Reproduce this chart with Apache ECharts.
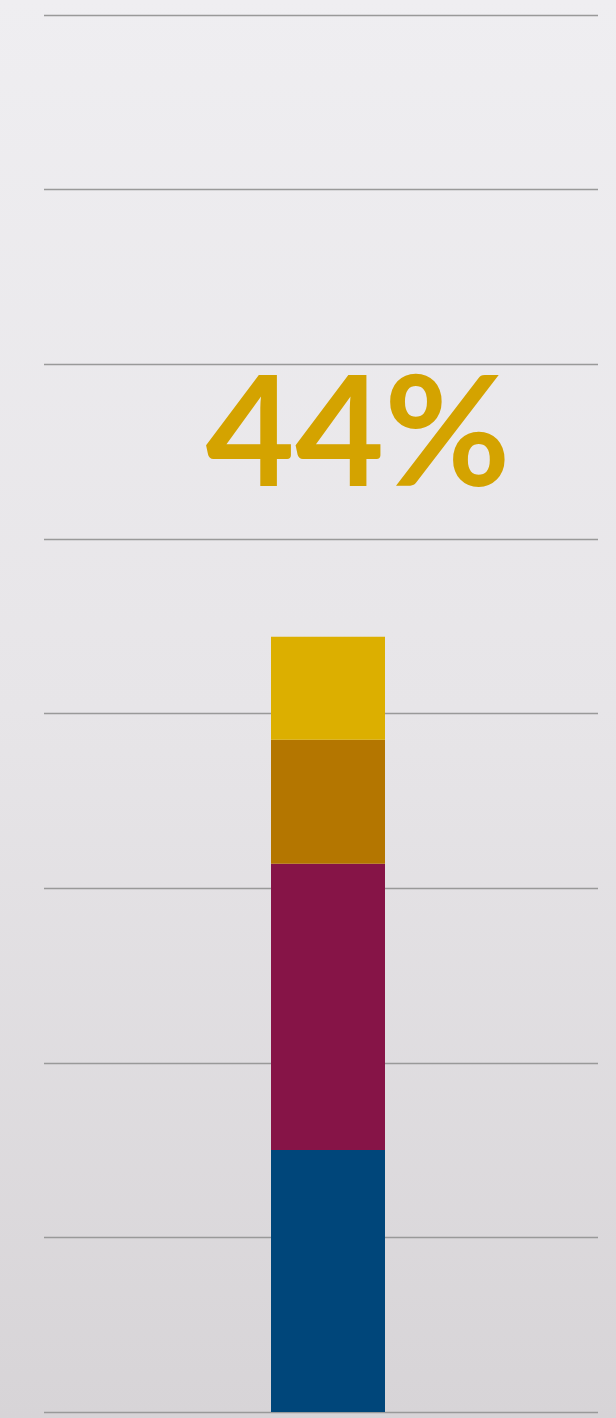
<!DOCTYPE html>
<html>
<head>
<meta charset="utf-8">
<script src="https://cdn.jsdelivr.net/npm/echarts@6/dist/echarts.min.js"></script>
<style>
html,body{margin:0;padding:0;width:616px;height:1418px;overflow:hidden;}
#chart{width:616px;height:1418px;}
</style>
</head>
<body>
<div id="chart"></div>
<script>
// ---- data ----
var categories = ['Total'];
var seriesNames = ['Segment A', 'Segment B', 'Segment C', 'Segment D'];
var segA = [15.0];
var segB = [16.4];
var segC = [7.1];
var segD = [5.9];
var yTicks = [0, 10, 20, 30, 40, 50, 60, 70, 80];

var colors = ['#00467A', '#861447', '#B47600', '#DCAF00'];
var values = [segA, segB, segC, segD];
var total = Math.round(segA[0] + segB[0] + segC[0] + segD[0]);

var chart = echarts.init(document.getElementById('chart'));
var series = values.map(function (v, i) {
  return {
    name: seriesNames[i],
    type: 'bar',
    stack: 'total',
    xAxisIndex: 1,
    yAxisIndex: 1,
    barWidth: 114,
    data: v,
    itemStyle: { color: colors[i] },
    emphasis: { disabled: true }
  };
});

var yMin = yTicks[0], yMax = yTicks[yTicks.length - 1], yInt = yTicks[1] - yTicks[0];

chart.setOption({
  animation: false,
  backgroundColor: {
    type: 'linear', x: 0, y: 0, x2: 0, y2: 1,
    colorStops: [
      { offset: 0, color: '#efeef1' },
      { offset: 0.5, color: '#e7e5e8' },
      { offset: 1, color: '#d7d4d7' }
    ]
  },
  grid: [
    { left: 44, right: 18, top: 15, bottom: 6 },
    { left: 58, right: 18, top: 15, bottom: 6 }
  ],
  xAxis: [
    { gridIndex: 0, type: 'category', data: categories, show: false },
    { gridIndex: 1, type: 'category', data: categories, show: false }
  ],
  yAxis: [
    {
      gridIndex: 0, type: 'value', min: yMin, max: yMax, interval: yInt,
      axisLine: { show: false }, axisTick: { show: false }, axisLabel: { show: false },
      splitLine: { show: true, lineStyle: { color: '#999999', width: 1.3 } }
    },
    {
      gridIndex: 1, type: 'value', min: yMin, max: yMax, interval: yInt, show: false,
      splitLine: { show: false }
    }
  ],
  graphic: [{
    type: 'text',
    x: 358,
    y: 436,
    z: 10,
    style: {
      text: total + '%',
      font: 'bold 154px Lato',
      fill: '#D4A300',
      align: 'center',
      verticalAlign: 'middle'
    }
  }],
  series: series
});
</script>
</body>
</html>
